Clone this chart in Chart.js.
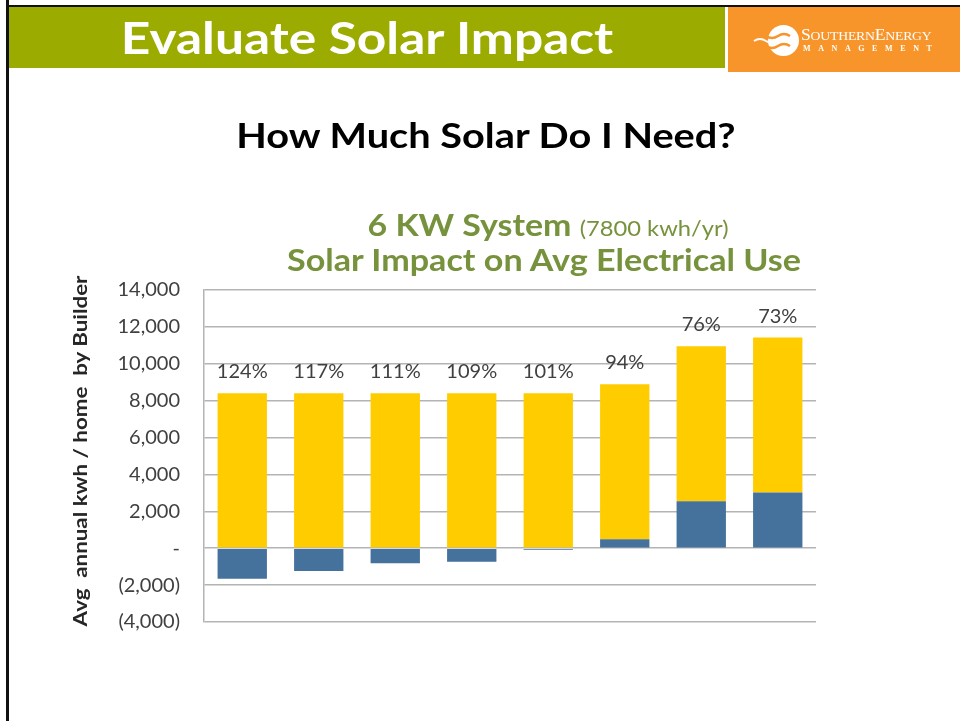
<!DOCTYPE html>
<html>
<head>
<meta charset="utf-8">
<script src="https://cdn.jsdelivr.net/npm/chart.js@4.4.1/dist/chart.umd.min.js"></script>
<style>
  body { margin: 0; background: #fff; }
  #page { position: relative; width: 960px; height: 721px; overflow: hidden; background: #fff; font-family: Lato, sans-serif; }
  #chart { position: absolute; left: 0; top: 0; }
  .abs { position: absolute; }
  #leftRule { left: 6px; top: 0; width: 3px; height: 721px; background: #111; }
  #topRule { left: 6px; top: 5px; width: 954px; height: 2px; background: #111; }
  #band { left: 9px; top: 7px; width: 716px; height: 61px; background: #9bab00; }
  #logoBox { left: 728px; top: 7px; width: 232px; height: 65px; background: #f7952b; }
  #mainTitle { left: 9px; top: 7px; width: 716px; height: 61px; line-height: 61px; color: #fff; font-weight: bold; font-size: 44px; text-align: center; transform: scaleX(1.17); }
  #subTitle { left: 0; top: 113px; width: 972px; text-align: center; font-weight: bold; font-size: 35px; color: #000; transform: scaleX(1.135); }
  #chartTitle1 { left: 0; top: 206px; width: 1096px; text-align: center; font-weight: bold; font-size: 30px; color: #77923c; transform: scaleX(1.13); }
  #chartTitle1 span { font-weight: normal; font-size: 21px; }
  #chartTitle2 { left: 0; top: 241px; width: 1088px; text-align: center; font-weight: bold; font-size: 30px; color: #77923c; transform: scaleX(1.137); }
  #yTitle { left: -120px; top: 440px; width: 400px; height: 22px; line-height: 22px; text-align: center; font-weight: bold; font-size: 18px; color: #262626; white-space: pre; transform: rotate(-90deg) scaleX(1.24); }
  #logoSun { left: 768px; top: 25px; width: 31px; height: 31px; border-radius: 50%; background: #fff; }
  #logoName { left: 801px; top: 26px; color: #fff; font-family: "Liberation Serif", serif; font-size: 16px; letter-spacing: -0.2px; transform-origin: 0 0; transform: scaleX(1.1); }
  #logoSub { left: 803px; top: 44px; color: #fff; font-family: "Liberation Serif", serif; font-size: 8px; font-weight: bold; letter-spacing: 7.6px; }
</style>
</head>
<body>
<div id="page">
  <canvas id="chart" width="960" height="721"></canvas>
  <div class="abs" id="leftRule"></div>
  <div class="abs" id="topRule"></div>
  <div class="abs" id="band"></div>
  <div class="abs" id="mainTitle">Evaluate Solar Impact</div>
  <div class="abs" id="logoBox"></div>
  <div class="abs" id="logoSun"></div>
  <svg class="abs" style="left:752px;top:30px" width="40" height="22">
    <path d="M2 6 q6 -4 12 0 t12 0 t12 0" stroke="#f7952b" stroke-width="2.5" fill="none"/>
    <path d="M2 11 q6 -4 12 0 t12 0 t12 0" stroke="#fff" stroke-width="2" fill="none"/>
    <path d="M2 16 q6 -4 12 0 t12 0 t12 0" stroke="#f7952b" stroke-width="2.5" fill="none"/>
  </svg>
  <div class="abs" id="logoName">S<span style="font-size:12.5px">OUTHERN</span>E<span style="font-size:12.5px">NERGY</span></div>
  <div class="abs" id="logoSub">MANAGEMENT</div>
  <div class="abs" id="subTitle">How Much Solar Do I Need?</div>
  <div class="abs" id="chartTitle1">6 KW System <span>(7800 kwh/yr)</span></div>
  <div class="abs" id="chartTitle2">Solar Impact on Avg Electrical Use</div>
  <div class="abs" id="yTitle">Avg  annual kwh / home  by Builder</div>
</div>
<script>
// builders (unnamed in the picture)
const builders = ['1', '2', '3', '4', '5', '6', '7', '8'];
// net grid use per home (kwh/yr), negative = surplus sent back
const gridUse = [-1650, -1230, -810, -740, -80, 490, 2550, 3020];
// solar production per home (kwh/yr)
const solarUse = [8400, 8400, 8400, 8400, 8400, 8400, 8400, 8400];
// solar share of use, shown above each bar
const offsetLabels = ['124%', '117%', '111%', '109%', '101%', '94%', '76%', '73%'];
const yTicks = [-4000, -2000, 0, 2000, 4000, 6000, 8000, 10000, 12000, 14000];

function fmtTick(v) {
  if (v === 0) return '-';
  const s = Math.abs(v).toLocaleString('en-US');
  return v < 0 ? '(' + s + ')' : s;
}

// percentage labels over the stacks
const topLabels = {
  id: 'topLabels',
  afterDatasetsDraw(chart) {
    const ctx = chart.ctx;
    const x = chart.scales.x;
    const y = chart.scales.y;
    ctx.save();
    ctx.font = '20px Lato';
    ctx.fillStyle = '#404040';
    ctx.textAlign = 'center';
    ctx.textBaseline = 'alphabetic';
    builders.forEach((b, i) => {
      const top = solarUse[i] + Math.max(gridUse[i], 0);
      ctx.fillText(offsetLabels[i], x.getPixelForValue(i), y.getPixelForValue(top) - 15);
    });
    ctx.restore();
  }
};

new Chart(document.getElementById('chart'), {
  type: 'bar',
  data: {
    labels: builders,
    datasets: [
      { label: 'Grid', data: gridUse, backgroundColor: '#44729d' },
      { label: 'Solar', data: solarUse, backgroundColor: '#ffcc00' }
    ]
  },
  options: {
    responsive: false,
    animation: false,
    layout: { padding: { left: 60, right: 144, top: 290, bottom: 99 } },
    datasets: { bar: { categoryPercentage: 1, barPercentage: 0.645 } },
    plugins: { legend: { display: false }, tooltip: { enabled: false } },
    scales: {
      x: { stacked: true, display: false },
      y: {
        stacked: true,
        min: -4000,
        max: 14000,
        afterFit(scale) { scale.width = 144; },
        afterBuildTicks(scale) { scale.ticks = yTicks.map(v => ({ value: v })); },
        ticks: {
          padding: 24,
          color: '#404040',
          font: { family: 'Lato', size: 20 },
          callback: v => fmtTick(v)
        },
        grid: { color: '#b4b4b4', lineWidth: 1.5, drawTicks: false },
        border: { display: true, color: '#b4b4b4', width: 1.5 },
        title: { display: false }
      }
    }
  },
  plugins: [topLabels]
});
</script>
</body>
</html>
